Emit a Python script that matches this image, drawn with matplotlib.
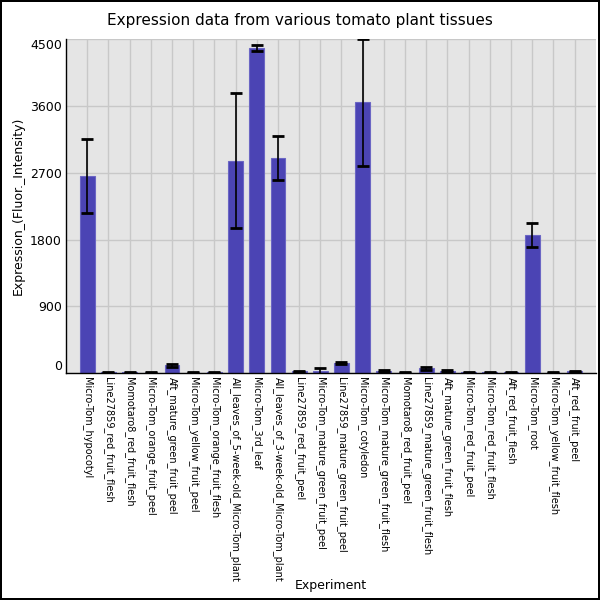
import matplotlib
matplotlib.use("Agg")
from matplotlib import pyplot as plt

tissues = [
    "Micro-Tom_hypocotyl", "Line27859_red_fruit_flesh", "Momotaro8_red_fruit_flesh",
    "Micro-Tom_orange_fruit_peel", "Aft_mature_green_fruit_peel", "Micro-Tom_yellow_fruit_peel",
    "Micro-Tom_orange_fruit_flesh", "All_leaves_of_5-week-old_Micro-Tom_plant",
    "Micro-Tom_3rd_leaf", "All_leaves_of_3-week-old_Micro-Tom_plant",
    "Line27859_red_fruit_peel", "Micro-Tom_mature_green_fruit_peel",
    "Line27859_mature_green_fruit_peel", "Micro-Tom_cotyledon",
    "Micro-Tom_mature_green_fruit_flesh", "Momotaro8_red_fruit_peel",
    "Line27859_mature_green_fruit_flesh", "Aft_mature_green_fruit_flesh",
    "Micro-Tom_red_fruit_peel", "Micro-Tom_red_fruit_flesh", "Aft_red_fruit_flesh",
    "Micro-Tom_root", "Micro-Tom_yellow_fruit_flesh", "Aft_red_fruit_peel",
]
expression = [2660, 12, 12, 8, 110, 8, 10, 2860, 4380, 2900, 25, 30, 140, 3645,
              30, 8, 65, 30, 10, 12, 12, 1860, 8, 25]
std_err = [500, 5, 5, 4, 20, 4, 5, 910, 35, 295, 8, 40, 15, 855,
           10, 4, 25, 10, 4, 5, 5, 160, 4, 10]
yticks = [0, 900, 1800, 2700, 3600, 4500]

fig = plt.figure(figsize=(6, 6), dpi=100)
fig.patch.set_edgecolor("black")
fig.patch.set_linewidth(1.5)
ax = fig.add_axes([0.11, 0.378, 0.883, 0.557])
ax.set_facecolor("#e5e5e5")

x = list(range(len(tissues)))
ax.bar(x, expression, width=0.7, color="#4b44b4", edgecolor="#6b66c4", linewidth=0.8,
       zorder=2)
ax.errorbar(x, expression, yerr=std_err, fmt="none", ecolor="black", elinewidth=1.2,
            capsize=4.5, capthick=2, zorder=3)

ax.set_xlim(-1, len(tissues))
ax.set_ylim(0, 4500)
ax.set_yticks(yticks)
ax.set_yticklabels([str(t) for t in yticks], fontsize=9)
labs = ax.get_yticklabels()
labs[0].set_va("bottom")
labs[-1].set_va("top")
ax.set_xticks(x)
ax.set_xticklabels(tissues, rotation=-90, fontsize=7, va="top", ha="center")
ax.tick_params(length=0, pad=3)

ax.grid(True, color="#c8c8c8", linewidth=1, zorder=0)
ax.set_axisbelow(True)
for s in ["top", "right"]:
    ax.spines[s].set_visible(False)
ax.spines["left"].set_linewidth(1)
ax.spines["bottom"].set_linewidth(1)

ax.set_ylabel("Expression_(Fluor._Intensity)", fontsize=9)
ax.set_xlabel("Experiment", fontsize=9)
fig.text(0.5, 0.965, "Expression data from various tomato plant tissues",
         ha="center", va="center", fontsize=11)

ax.xaxis.set_label_coords(0.5, -0.615)
ax.yaxis.set_label_coords(-0.078, 0.5)

fig.savefig("out.png", dpi=100)
